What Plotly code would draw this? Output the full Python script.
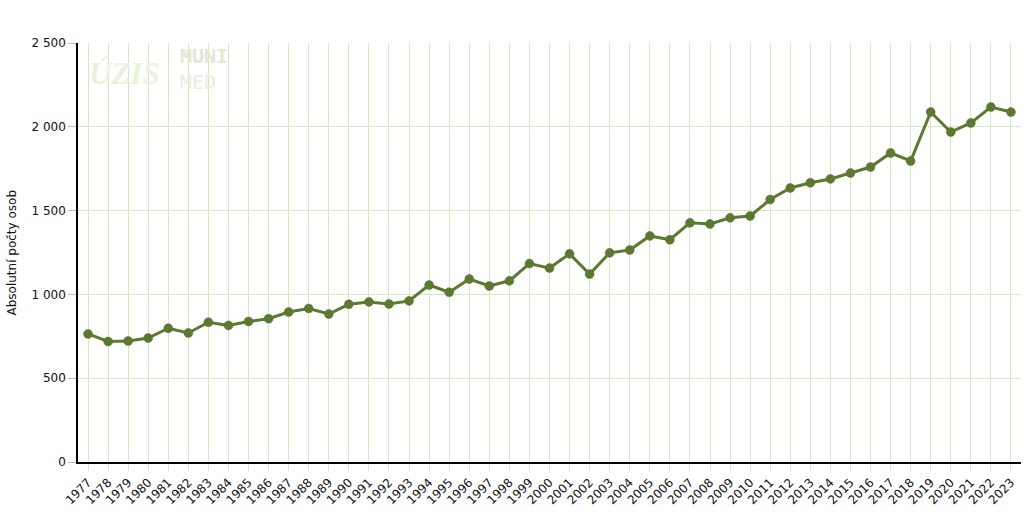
import plotly.graph_objects as go

years = [str(y) for y in range(1977, 2024)]
persons = [764, 719, 722, 740, 798, 770, 834, 815, 838, 855,
           895, 916, 883, 941, 955, 943, 961, 1056, 1013, 1092,
           1050, 1081, 1184, 1157, 1242, 1121, 1248, 1265, 1349, 1326,
           1427, 1420, 1457, 1468, 1566, 1635, 1666, 1689, 1724, 1760,
           1844, 1796, 2088, 1969, 2023, 2118, 2088]
y_ticks = [0, 500, 1000, 1500, 2000, 2500]
y_labels = ["0", "500", "1 000", "1 500", "2 000", "2 500"]

grid = "#d6e8c2"
olive = "#5a7b2d"

fig = go.Figure()

# main series
fig.add_trace(go.Scatter(
    x=years,
    y=persons,
    mode="lines+markers",
    line=dict(color=olive, width=3),
    marker=dict(color=olive, size=9, line=dict(color="#6a6a5a", width=0.5)),
    hoverinfo="x+y",
))

# watermark logos
fig.add_annotation(xref="paper", yref="paper", x=0.049, y=0.928, xanchor="center", yanchor="middle",
                   text="<b><i>ÚZIS</i></b>", showarrow=False,
                   font=dict(family="Liberation Serif", size=31, color="#e9f3dc"))
fig.add_annotation(xref="paper", yref="paper", x=0.134, y=0.968, xanchor="center", yanchor="middle",
                   text="<b>MUNI</b>", showarrow=False,
                   font=dict(family="DejaVu Sans Mono", size=20, color="#e2e9d3"))
fig.add_annotation(xref="paper", yref="paper", x=0.1277, y=0.906, xanchor="center", yanchor="middle",
                   text="MED", showarrow=False,
                   font=dict(family="DejaVu Sans Mono", size=20, color="#e8eedd"))

# y axis title placed by hand so the margin stays fixed
fig.add_annotation(xref="paper", yref="paper", x=0, y=0.5, xshift=-67, xanchor="center", yanchor="middle",
                   text="Absolutní počty osob", textangle=-90, showarrow=False,
                   font=dict(size=12))

fig.update_layout(
    width=1025,
    height=512,
    showlegend=False,
    paper_bgcolor="white",
    plot_bgcolor="white",
    margin=dict(l=78, r=4, t=43, b=50, autoexpand=False),
    font=dict(family="DejaVu Sans", size=12, color="#111111"),
)

fig.update_xaxes(
    type="category",
    range=[-0.5, len(years) - 0.5],
    showgrid=True,
    gridcolor=grid,
    gridwidth=1,
    showline=True,
    linecolor="black",
    linewidth=1.5,
    ticks="outside",
    ticklen=7,
    tickcolor=grid,
    tickangle=-45,
    tickfont=dict(size=12),
    automargin=False,
)
fig.update_yaxes(
    range=[0, 2500],
    tickvals=y_ticks,
    ticktext=y_labels,
    showgrid=True,
    gridcolor=grid,
    gridwidth=1,
    zeroline=False,
    showline=True,
    linecolor="black",
    linewidth=1.5,
    ticks="outside",
    ticklen=8,
    tickcolor="#bbbbbb",
    automargin=False,
)

# drop the default body margin so the figure sits at the page corner
fig.write_html("out.html", config={"displayModeBar": False},
               post_script="document.body.style.margin='0';")
